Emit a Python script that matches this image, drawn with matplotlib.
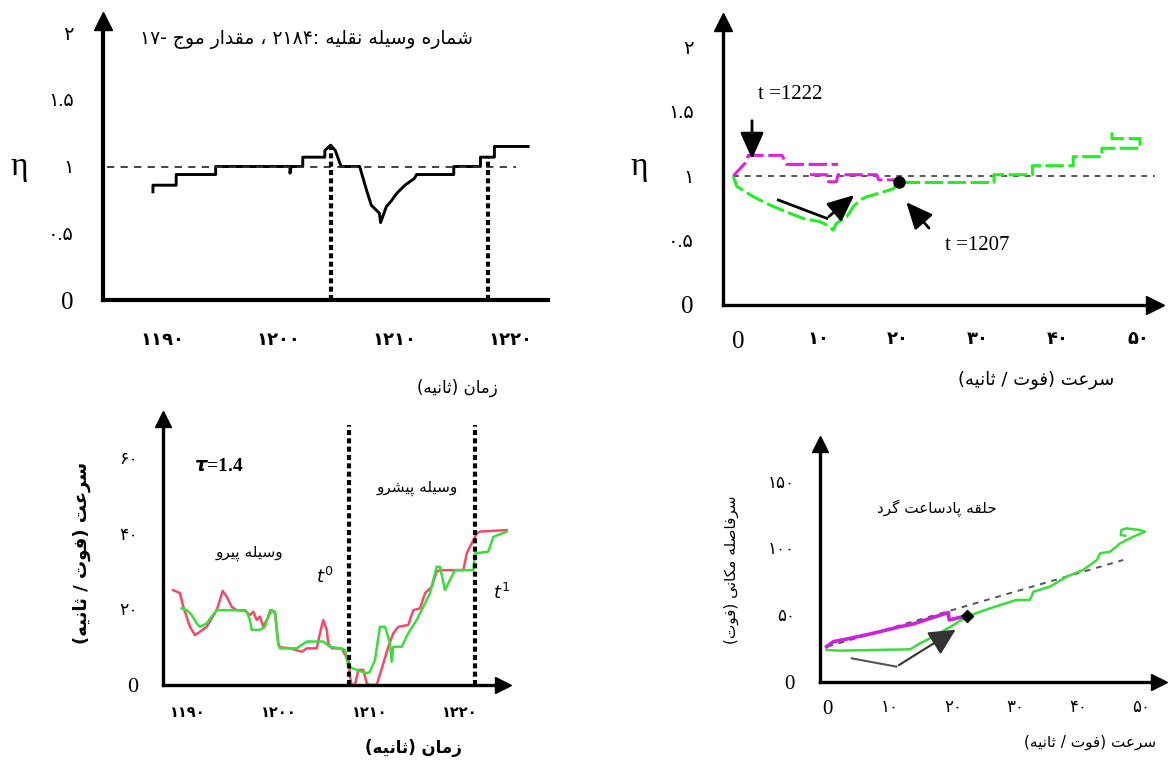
import numpy as np
import matplotlib
matplotlib.use('Agg')
import matplotlib.pyplot as plt

W, H = 1171, 763
FA_FONT = ['DejaVu Sans']
NUM_FONT = ['Liberation Serif', 'DejaVu Sans']

# ---------------- data ----------------
# top left : eta against time, vehicle 2184
eta_time = [1189.2, 1189.2, 1191.2, 1191.2, 1194.6, 1194.6, 1201.0, 1201.0, 1201.1, 1202.1,
            1202.1, 1204.0, 1204.0, 1204.5, 1204.9, 1205.4, 1207.0, 1207.6, 1208.0, 1208.7,
            1208.8, 1209.3, 1209.7, 1210.2, 1210.9, 1211.7, 1211.9, 1215.1, 1215.1, 1217.4,
            1217.4, 1218.6, 1218.6, 1221.5]
eta_val = [0.81, 0.86, 0.86, 0.94, 0.94, 1.00, 1.00, 0.95, 1.00, 1.00,
           1.07, 1.07, 1.12, 1.16, 1.12, 1.00, 1.00, 0.82, 0.71, 0.65,
           0.58, 0.70, 0.74, 0.80, 0.86, 0.91, 0.94, 0.94, 1.00, 1.00,
           1.07, 1.07, 1.15, 1.15]
eta_mark_t = [1204.54, 1218.05]
eta_mark_top = [1.15, 1.07]

# top right : eta against speed
pink_speed = [-0.6, 0.9, 1.3, 5.5, 6.1, 12.5, np.nan, 9.0, 11.1, 11.3, 12.3, 12.5, 17.3, 17.6, 20.0]
pink_eta = [1.00, 1.10, 1.16, 1.16, 1.09, 1.09, np.nan, 1.01, 1.01, 0.955, 0.955, 1.01, 1.01, 0.97, 0.97]
green_speed = [-0.6, -0.16, 1.9, 4.0, 6.1, 8.2, 10.25, 11.5, 11.9, 12.3, 13.6, 14.4, 15.25, 16.1,
               16.9, 18.2, 19.4, 20.0, 20.2, 32.0, 32.0, 36.8, 36.8, 41.9, 41.9, 45.5, 45.5,
               50.25, 50.25, 46.75, 46.75]
green_eta = [1.00, 0.92, 0.84, 0.775, 0.72, 0.67, 0.646, 0.607, 0.58, 0.633, 0.684, 0.762, 0.814, 0.84,
             0.853, 0.878, 0.90, 0.95, 0.95, 0.95, 1.01, 1.01, 1.08, 1.08, 1.15, 1.15, 1.215,
             1.215, 1.29, 1.29, 1.37]
meet_point = (20.1, 0.955)

# bottom left : speed of follower (red) and leader (green)
red_time = [1188.41, 1189.15, 1189.51, 1190.25, 1190.8, 1191.35, 1192.09, 1192.64, 1193.19, 1193.55,
            1193.85, 1194.29, 1194.84, 1195.39, 1196.3, 1196.85, 1197.22, 1197.59, 1197.95, 1198.32,
            1198.69, 1199.24, 1199.61, 1199.97, 1200.16, 1201.26, 1202.55, 1203.1, 1204.2, 1204.56,
            1204.92, 1205.3, 1205.47, 1205.85, 1206.95, 1207.5, 1207.68, 1207.86, 1208.05, 1208.41,
            1208.78, 1209.33, 1209.7, 1210.06, 1210.8, 1211.53, 1212.08, 1212.63, 1213.18, 1214.28,
            1214.83, 1215.57, 1216.12, 1216.86, 1217.4, 1217.77, 1220.34, 1220.71, 1221.07, 1221.81,
            1222.17, 1225.11]
red_speed = [25.1, 24.3, 20.7, 15.4, 13.2, 14.1, 15.4, 17.6, 19.8, 22.5,
             24.9, 23.4, 20.7, 19.8, 19.8, 18.5, 19.4, 17.2, 18.1, 15.4,
             17.2, 19.8, 19.0, 11.0, 10.0, 9.7, 8.8, 9.7, 9.7, 13.7,
             17.2, 14.6, 11.0, 9.7, 9.7, 7.1, 7.5, 2.2, 0.0, 0.0,
             4.0, 4.0, 0.4, 0.0, 0.0, 5.7, 10.1, 13.7, 15.4, 15.9,
             19.8, 20.3, 24.3, 26.0, 30.0, 30.4, 30.4, 34.8, 36.6, 40.1,
             40.6, 41.0]
green_time = [1189.33, 1189.89, 1190.44, 1190.99, 1191.35, 1192.09, 1192.64, 1193.19, 1195.75, 1196.49,
              1196.85, 1197.04, 1197.95, 1198.5, 1199.06, 1199.61, 1199.97, 1200.16, 1201.99, 1203.1,
              1204.2, 1204.92, 1205.66, 1206.76, 1207.31, 1207.5, 1207.68, 1208.6, 1209.7, 1210.06,
              1210.61, 1211.16, 1211.72, 1212.27, 1212.45, 1212.63, 1213.55, 1214.28, 1215.2, 1215.93,
              1216.67, 1217.4, 1217.77, 1218.32, 1218.87, 1219.42, 1221.44, 1221.62, 1223.09, 1223.64,
              1225.11]
green_time_speed = [20.3, 19.8, 18.5, 16.3, 15.4, 16.3, 18.1, 19.8, 19.8, 19.4,
                    17.2, 14.6, 14.6, 15.4, 19.8, 19.4, 10.6, 9.7, 9.7, 11.5,
                    11.5, 11.5, 10.1, 9.7, 9.3, 7.1, 4.8, 4.0, 3.1, 3.5,
                    6.6, 15.4, 15.4, 11.0, 6.2, 10.1, 10.1, 13.7, 17.2, 20.7,
                    24.3, 31.3, 31.3, 25.1, 27.8, 30.4, 30.4, 34.8, 35.3, 39.2,
                    40.6]
t0, t1 = 1207.7, 1221.6

# bottom right : spacing against speed
loop_pink_v = [-0.1, 0.95, 3.6, 7.3, 11.6, 13.7, 16.9, 19.25, 19.4, 21.6]
loop_pink_d = [26.3, 30.0, 32.5, 36.3, 41.3, 43.3, 48.3, 51.8, 46.3, 48.8]
loop_green_v = [-0.1, 2.0, 13.2, 14.75, 16.9, 20.05, 22.2, 24.8, 27.5, 30.1, 32.25, 32.8, 35.4,
                38.1, 40.7, 42.9, 43.4, 45.0, 46.6, 48.7, 50.55, 49.75, 47.6, 46.8, 46.7, 47.4]
loop_green_d = [23.8, 23.3, 24.3, 28.8, 33.8, 42.5, 48.8, 53.3, 57.5, 61.3, 61.3, 67.5, 71.3,
                78.8, 83.8, 91.3, 96.3, 97.5, 103.8, 108.8, 112.5, 113.8, 115.0, 113.8, 110.0, 109.5]
equil_v = [0.0, 47.1]
equil_d = [26.3, 91.3]
loop_meet = (22.2, 49.3)

time_ticks = [1190, 1200, 1210, 1220]
time_labels = ['۱۱۹۰', '۱۲۰۰', '۱۲۱۰', '۱۲۲۰']
eta_ticks = [0, 0.5, 1, 1.5, 2]
eta_labels = ['0', '۰.۵', '۱', '۱.۵', '۲']
speed_ticks = [0, 10, 20, 30, 40, 50]
speed_labels = ['0', '۱۰', '۲۰', '۳۰', '۴۰', '۵۰']
v_ticks = [0, 20, 40, 60]
v_labels = ['0', '۲۰', '۴۰', '۶۰']
d_ticks = [0, 50, 100, 150]
d_labels = ['0', '۵۰', '۱۰۰', '۱۵۰']

# ---------------- persian shaping (no bidi engine in matplotlib) ----------------
FORMS = {
    'ا': ('\uFE8D', '\uFE8E'),
    'ت': ('\uFE95', '\uFE96', '\uFE97', '\uFE98'),
    'ث': ('\uFE99', '\uFE9A', '\uFE9B', '\uFE9C'),
    'ج': ('\uFE9D', '\uFE9E', '\uFE9F', '\uFEA0'),
    'ح': ('\uFEA1', '\uFEA2', '\uFEA3', '\uFEA4'),
    'د': ('\uFEA9', '\uFEAA'),
    'ر': ('\uFEAD', '\uFEAE'),
    'ز': ('\uFEAF', '\uFEB0'),
    'س': ('\uFEB1', '\uFEB2', '\uFEB3', '\uFEB4'),
    'ش': ('\uFEB5', '\uFEB6', '\uFEB7', '\uFEB8'),
    'ص': ('\uFEB9', '\uFEBA', '\uFEBB', '\uFEBC'),
    'ع': ('\uFEC9', '\uFECA', '\uFECB', '\uFECC'),
    'ف': ('\uFED1', '\uFED2', '\uFED3', '\uFED4'),
    'ق': ('\uFED5', '\uFED6', '\uFED7', '\uFED8'),
    'ل': ('\uFEDD', '\uFEDE', '\uFEDF', '\uFEE0'),
    'م': ('\uFEE1', '\uFEE2', '\uFEE3', '\uFEE4'),
    'ن': ('\uFEE5', '\uFEE6', '\uFEE7', '\uFEE8'),
    'ه': ('\uFEE9', '\uFEEA', '\uFEEB', '\uFEEC'),
    'و': ('\uFEED', '\uFEEE'),
    'پ': ('\uFB56', '\uFB57', '\uFB58', '\uFB59'),
    'ک': ('\uFB8E', '\uFB8F', '\uFB90', '\uFB91'),
    'گ': ('\uFB92', '\uFB93', '\uFB94', '\uFB95'),
    'ی': ('\uFBFC', '\uFBFD', '\uFBFE', '\uFBFF'),
}
DIGITS = '0123456789۰۱۲۳۴۵۶۷۸۹'


def fa(text):
    shaped = []
    for i, ch in enumerate(text):
        if ch not in FORMS:
            shaped.append(ch)
            continue
        prev = text[i - 1] if i > 0 else ''
        nxt = text[i + 1] if i + 1 < len(text) else ''
        join_prev = prev in FORMS and len(FORMS[prev]) == 4
        join_next = len(FORMS[ch]) == 4 and nxt in FORMS
        f = FORMS[ch]
        if join_prev and join_next:
            shaped.append(f[3])
        elif join_prev:
            shaped.append(f[1])
        elif join_next:
            shaped.append(f[2])
        else:
            shaped.append(f[0])
    out, run = [], []
    for ch in shaped[::-1]:
        if ch in DIGITS:
            run.append(ch)
        else:
            out.extend(run[::-1])
            run = []
            out.append({'(': ')', ')': '('}.get(ch, ch))
    out.extend(run[::-1])
    return ''.join(out)


def rect(left, top, right, bottom):
    return [left / W, 1 - bottom / H, (right - left) / W, (bottom - top) / H]


def arrow_axes(fig, r, xlim, ylim, lw=2.2, ms=12, xarrow=True):
    ax = fig.add_axes(r)
    ax.set_xlim(xlim)
    ax.set_ylim(ylim)
    ax.patch.set_alpha(0)
    for s in ['top', 'right']:
        ax.spines[s].set_visible(False)
    for s in ['left', 'bottom']:
        ax.spines[s].set_linewidth(lw)
    ax.plot(0, 1, marker='^', ms=ms, color='k', transform=ax.transAxes, clip_on=False)
    if xarrow:
        ax.plot(1, 0, marker='>', ms=ms, color='k', transform=ax.transAxes, clip_on=False)
    ax.tick_params(length=0)
    return ax


def set_ticks(ax, xt, xl, yt, yl, xsize, ysize, zero_size, xpad, ypad, xbold=True):
    ax.set_xticks(xt, xl)
    ax.set_yticks(yt, yl)
    ax.tick_params(axis='x', pad=xpad)
    ax.tick_params(axis='y', pad=ypad)
    for lab in ax.get_xticklabels():
        lab.set_family(NUM_FONT)
        lab.set_fontsize(xsize)
        if xbold:
            lab.set_fontweight('bold')
    for lab in ax.get_yticklabels():
        lab.set_family(NUM_FONT)
        lab.set_fontsize(ysize)
    for lab in ax.get_xticklabels() + ax.get_yticklabels():
        if lab.get_text() == '0':
            lab.set_fontsize(zero_size)
            lab.set_fontweight('normal')


if __name__ == "__main__":
    fig = plt.figure(figsize=(W / 100, H / 100), dpi=100)

    # ---- top left ----
    ax1 = arrow_axes(fig, rect(103, 21, 547.6, 300), (1184.9, 1223.18), (0, 2.09),
                     lw=3, ms=13, xarrow=False)
    ax1.plot(eta_time, eta_val, color='k', lw=2.1)
    ax1.axhline(1.0, xmin=0.01, xmax=0.93, color='#333333', lw=1.3, ls=(0, (4, 3.5)))
    ax1.vlines(eta_mark_t, 0, eta_mark_top, color='k', lw=3, linestyles=(0, (1.2, 0.8)))
    set_ticks(ax1, time_ticks, time_labels, eta_ticks, eta_labels, 13, 14, 18, 23, 21)
    ax1.text(1202.4, 1.95, fa('شماره وسیله نقلیه :۲۱۸۴ ، مقدار موج -۱۷'), family=FA_FONT,
             fontsize=13.5, ha='center', va='center')
    fig.text(19.6 / W, 1 - 166.7 / H, 'η', family=NUM_FONT, fontsize=24, ha='center', va='center')
    fig.text(456.9 / W, 1 - 388.3 / H, fa('زمان (ثانیه)'), family=FA_FONT, fontsize=12,
             ha='center', va='center')

    # ---- top right ----
    ax2 = arrow_axes(fig, rect(723, 22, 1155, 305), (-1.875, 52.125), (0, 2.194), lw=2.4, ms=13)
    ax2.plot([-0.6, 53], [1, 1], color='#555555', lw=1.4, ls=(0, (3, 3)))
    ax2.plot(green_speed, green_eta, color='#22ee22', lw=2.2, ls=(0, (6, 1.5)))
    ax2.plot(pink_speed, pink_eta, color='#dd22dd', lw=2.2, ls=(0, (6, 1.5)))
    ax2.plot(*meet_point, marker='o', ms=8, color='k')
    set_ticks(ax2, speed_ticks, speed_labels, eta_ticks, eta_labels, 13, 14, 18, 19, 21)
    arr = dict(arrowstyle='-|>,head_length=0.9,head_width=0.4', color='k', lw=2, mutation_scale=18)
    ax2.annotate('', xy=(1.75, 1.11), xytext=(1.75, 1.45), arrowprops=arr)
    ax2.plot([5.04, 11.1], [0.814, 0.672], color='k', lw=2)
    ax2.annotate('', xy=(14.8, 0.866), xytext=(11.1, 0.672), arrowprops=arr)
    ax2.annotate('', xy=(20.8, 0.814), xytext=(24.1, 0.58), arrowprops=arr)
    ax2.text(6.5, 1.63, 't =1222', family=NUM_FONT, fontsize=15, ha='center', va='center')
    ax2.text(29.9, 0.465, 't =1207', family=NUM_FONT, fontsize=15, ha='center', va='center')
    fig.text(639.6 / W, 1 - 166.7 / H, 'η', family=NUM_FONT, fontsize=24, ha='center', va='center')
    fig.text(1036 / W, 1 - 380 / H, fa('سرعت (فوت / ثانیه)'), family=FA_FONT, fontsize=13,
             ha='center', va='center')

    # ---- bottom left ----
    ax3 = arrow_axes(fig, rect(163, 419, 502.7, 685), (1187.28, 1224.67), (0, 70.4), lw=2.4, ms=12)
    ax3.plot(red_time, red_speed, color='#f04c6a', lw=1.8, clip_on=False)
    ax3.plot(green_time, green_time_speed, color='#3ddc3d', lw=1.8, clip_on=False)
    ax3.vlines([t0, t1], 0, 68.8, color='k', lw=3, linestyles=(0, (1.2, 0.8)))
    set_ticks(ax3, time_ticks, time_labels, v_ticks, v_labels, 10.5, 12.5, 16, 16, 18)
    ax3.text(1193.4, 57.75, r'$\boldsymbol{\tau}$=1.4', family=NUM_FONT, fontsize=14,
             fontweight='bold', ha='center', va='center')
    ax3.text(1215.3, 52.0, fa('وسیله پیشرو'), family=FA_FONT, fontsize=11, ha='center', va='center')
    ax3.text(1196.8, 34.8, fa('وسیله پیرو'), family=FA_FONT, fontsize=11, ha='center', va='center')
    ax3.text(1205.1, 28.65, '$t^0$', fontsize=13, ha='center', va='center')
    ax3.text(1224.5, 24.3, '$t^1$', fontsize=13, ha='center', va='center')
    fig.text(81.8 / W, 1 - 553.3 / H, fa('سرعت (فوت / ثانیه)'), family=FA_FONT, fontsize=13,
             fontweight='bold', rotation=90, ha='center', va='center')
    fig.text(413 / W, 1 - 748.3 / H, fa('زمان (ثانیه)'), family=FA_FONT, fontsize=12,
             fontweight='bold', ha='center', va='center')

    # ---- bottom right ----
    ax4 = arrow_axes(fig, rect(820, 444, 1159, 681.7), (-1.16, 52.78), (0, 178.3), lw=2.4, ms=12)
    ax4.plot(equil_v, equil_d, color='#555555', lw=1.4, ls=(0, (3, 3)))
    ax4.plot(loop_green_v, loop_green_d, color='#3ddc3d', lw=1.8)
    ax4.plot(loop_pink_v, loop_pink_d, color='#cc22dd', lw=2.6)
    ax4.plot(*loop_meet, marker='D', ms=6, color='k')
    ax4.plot([3.9, 11.0], [17.5, 11.3], color='#555555', lw=1.5)
    ax4.annotate('', xy=(20.8, 40.1), xytext=(11.0, 11.3),
                 arrowprops=dict(arrowstyle='-|>,head_length=0.9,head_width=0.45', color='#333333',
                                 lw=1.5, mutation_scale=18))
    set_ticks(ax4, speed_ticks, speed_labels, d_ticks, d_labels, 12, 12, 15, 13, 18, xbold=False)
    ax4.text(17.4, 130, fa('حلقه پادساعت گرد'), family=FA_FONT, fontsize=11, ha='center', va='center')
    fig.text(731.7 / W, 1 - 570 / H, fa('سرفاصله مکانی (فوت)'), family=FA_FONT, fontsize=11,
             rotation=90, ha='center', va='center')
    fig.text(1090 / W, 1 - 742 / H, fa('سرعت (فوت / ثانیه)'), family=FA_FONT, fontsize=11,
             ha='center', va='center')

    fig.savefig('out.png', dpi=100)
